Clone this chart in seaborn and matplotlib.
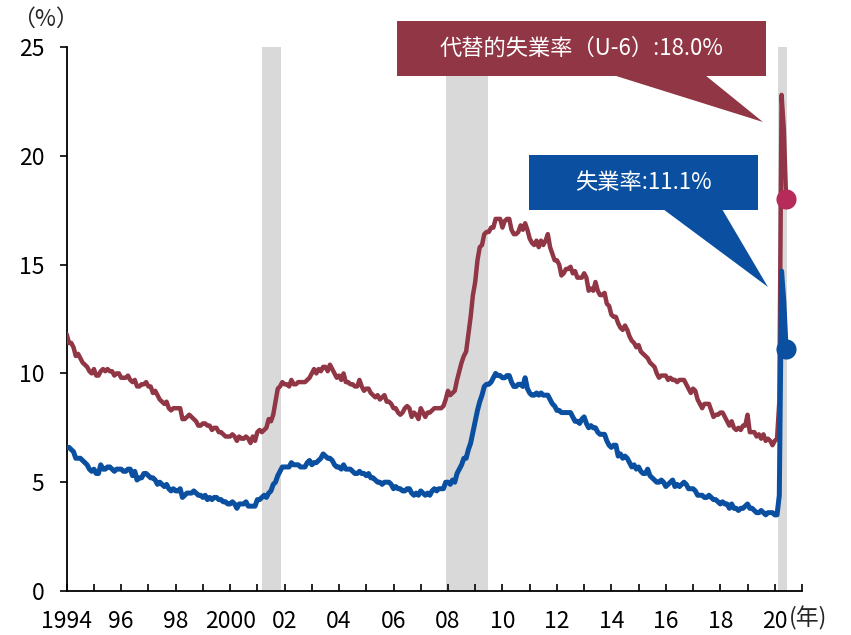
import numpy as np
import pandas as pd
import matplotlib
matplotlib.use("Agg")
import matplotlib.pyplot as plt
from matplotlib.patches import Polygon, Rectangle
import seaborn as sns

# ---------------- data (monthly, Jan 1994 - Jun 2020) ----------------
start_year = 1994
unemp = [
    6.6, 6.6, 6.5, 6.4, 6.1, 6.1, 6.1, 6.0, 5.9, 5.8, 5.6, 5.5,   # 1994
    5.6, 5.4, 5.4, 5.8, 5.6, 5.6, 5.7, 5.7, 5.6, 5.5, 5.6, 5.6,   # 1995
    5.6, 5.5, 5.5, 5.6, 5.6, 5.3, 5.5, 5.1, 5.2, 5.2, 5.4, 5.4,   # 1996
    5.3, 5.2, 5.2, 5.1, 4.9, 5.0, 4.9, 4.8, 4.9, 4.7, 4.6, 4.7,   # 1997
    4.6, 4.6, 4.7, 4.3, 4.4, 4.5, 4.5, 4.5, 4.6, 4.5, 4.4, 4.4,   # 1998
    4.3, 4.4, 4.2, 4.3, 4.2, 4.3, 4.3, 4.2, 4.2, 4.1, 4.1, 4.0,   # 1999
    4.0, 4.1, 4.0, 3.8, 4.0, 4.0, 4.0, 4.1, 3.9, 3.9, 3.9, 3.9,   # 2000
    4.2, 4.2, 4.3, 4.4, 4.3, 4.5, 4.6, 4.9, 5.0, 5.3, 5.5, 5.7,   # 2001
    5.7, 5.7, 5.7, 5.9, 5.8, 5.8, 5.8, 5.7, 5.7, 5.7, 5.9, 6.0,   # 2002
    5.8, 5.9, 5.9, 6.0, 6.1, 6.3, 6.2, 6.1, 6.1, 6.0, 5.8, 5.7,   # 2003
    5.7, 5.6, 5.8, 5.6, 5.6, 5.6, 5.5, 5.4, 5.4, 5.5, 5.4, 5.4,   # 2004
    5.3, 5.4, 5.2, 5.2, 5.1, 5.0, 5.0, 4.9, 5.0, 5.0, 5.0, 4.9,   # 2005
    4.7, 4.8, 4.7, 4.7, 4.6, 4.6, 4.7, 4.7, 4.5, 4.4, 4.5, 4.4,   # 2006
    4.6, 4.5, 4.4, 4.5, 4.4, 4.6, 4.7, 4.6, 4.7, 4.7, 4.7, 5.0,   # 2007
    5.0, 4.9, 5.1, 5.0, 5.4, 5.6, 5.8, 6.1, 6.1, 6.5, 6.8, 7.3,   # 2008
    7.8, 8.3, 8.7, 9.0, 9.4, 9.5, 9.5, 9.6, 9.8, 10.0, 9.9, 9.9,  # 2009
    9.8, 9.8, 9.9, 9.9, 9.6, 9.4, 9.4, 9.5, 9.5, 9.4, 9.8, 9.3,   # 2010
    9.1, 9.0, 9.0, 9.1, 9.0, 9.1, 9.0, 9.0, 9.0, 8.8, 8.6, 8.5,   # 2011
    8.3, 8.3, 8.2, 8.2, 8.2, 8.2, 8.2, 8.0, 7.8, 7.8, 7.7, 7.9,   # 2012
    8.0, 7.7, 7.5, 7.6, 7.5, 7.5, 7.3, 7.2, 7.2, 7.2, 6.9, 6.7,   # 2013
    6.6, 6.7, 6.7, 6.2, 6.3, 6.1, 6.2, 6.1, 5.9, 5.7, 5.8, 5.6,   # 2014
    5.7, 5.5, 5.4, 5.4, 5.6, 5.3, 5.2, 5.1, 5.0, 5.0, 5.1, 5.0,   # 2015
    4.8, 4.9, 5.0, 5.1, 4.8, 4.9, 4.8, 4.9, 5.0, 4.9, 4.7, 4.7,   # 2016
    4.7, 4.6, 4.4, 4.4, 4.4, 4.3, 4.3, 4.4, 4.3, 4.2, 4.2, 4.1,   # 2017
    4.0, 4.1, 4.0, 4.0, 3.8, 4.0, 3.8, 3.8, 3.7, 3.8, 3.8, 3.9,   # 2018
    4.0, 3.8, 3.8, 3.7, 3.6, 3.6, 3.7, 3.6, 3.5, 3.6, 3.6, 3.6,   # 2019
    3.5, 3.5, 4.4, 14.7, 13.3, 11.1,                              # 2020
]
u6 = [
    11.8, 11.4, 11.4, 11.2, 10.8, 10.9, 10.7, 10.5, 10.4, 10.3, 10.1, 10.0,  # 1994
    10.2, 9.9, 9.9, 10.1, 10.2, 10.1, 10.2, 10.1, 10.1, 9.9, 10.0, 10.0,     # 1995
    9.8, 9.8, 9.8, 9.9, 9.7, 9.6, 9.7, 9.4, 9.4, 9.5, 9.5, 9.6,             # 1996
    9.4, 9.4, 9.1, 9.2, 9.0, 8.8, 8.7, 8.6, 8.7, 8.4, 8.3, 8.4,             # 1997
    8.4, 8.4, 8.4, 7.9, 7.9, 8.0, 8.1, 8.0, 7.9, 7.8, 7.6, 7.6,             # 1998
    7.7, 7.7, 7.6, 7.6, 7.4, 7.5, 7.5, 7.3, 7.3, 7.2, 7.1, 7.1,             # 1999
    7.1, 7.2, 7.1, 6.9, 7.1, 7.0, 7.0, 7.1, 7.0, 6.8, 7.1, 6.9,             # 2000
    7.3, 7.4, 7.3, 7.4, 7.5, 7.9, 7.8, 8.1, 8.7, 9.3, 9.4, 9.6,             # 2001
    9.5, 9.5, 9.4, 9.7, 9.5, 9.5, 9.6, 9.6, 9.6, 9.6, 9.7, 9.8,             # 2002
    10.0, 10.2, 10.0, 10.2, 10.1, 10.3, 10.3, 10.1, 10.4, 10.2, 10.0, 9.8,  # 2003
    9.9, 9.7, 10.0, 9.6, 9.6, 9.5, 9.5, 9.4, 9.4, 9.7, 9.4, 9.2,            # 2004
    9.3, 9.3, 9.1, 9.0, 8.9, 9.0, 8.8, 8.9, 9.0, 8.7, 8.7, 8.6,             # 2005
    8.4, 8.4, 8.2, 8.1, 8.2, 8.4, 8.5, 8.4, 8.0, 8.2, 8.1, 7.9,             # 2006
    8.4, 8.2, 8.0, 8.2, 8.2, 8.3, 8.4, 8.4, 8.4, 8.4, 8.5, 8.8,             # 2007
    9.2, 9.0, 9.1, 9.2, 9.7, 10.1, 10.5, 10.8, 11.0, 11.8, 12.6, 13.6,      # 2008
    14.2, 15.2, 15.8, 15.9, 16.4, 16.5, 16.5, 16.7, 16.7, 17.1, 17.1, 17.1, # 2009
    16.7, 17.0, 17.1, 17.1, 16.6, 16.4, 16.4, 16.5, 16.8, 16.6, 16.9, 16.6, # 2010
    16.2, 16.0, 15.9, 16.1, 15.8, 16.1, 15.9, 16.1, 16.4, 15.8, 15.5, 15.2, # 2011
    15.2, 15.0, 14.5, 14.6, 14.8, 14.8, 14.9, 14.6, 14.7, 14.4, 14.4, 14.4, # 2012
    14.6, 14.4, 13.8, 13.9, 13.8, 14.2, 13.8, 13.6, 13.6, 13.7, 13.2, 13.1, # 2013
    12.7, 12.6, 12.6, 12.3, 12.1, 12.0, 12.2, 12.0, 11.7, 11.5, 11.4, 11.2, # 2014
    11.3, 11.0, 10.9, 10.8, 10.7, 10.5, 10.4, 10.3, 10.0, 9.8, 9.9, 9.9,    # 2015
    9.9, 9.7, 9.8, 9.7, 9.7, 9.6, 9.7, 9.7, 9.7, 9.5, 9.3, 9.1,             # 2016
    9.3, 9.2, 8.8, 8.6, 8.4, 8.6, 8.6, 8.6, 8.3, 8.0, 8.1, 8.1,             # 2017
    8.2, 8.2, 8.0, 7.8, 7.6, 7.8, 7.5, 7.4, 7.5, 7.4, 7.6, 7.6,             # 2018
    8.1, 7.3, 7.3, 7.3, 7.1, 7.2, 7.0, 7.2, 6.9, 7.0, 6.9, 6.7,             # 2019
    6.9, 7.0, 8.7, 22.8, 21.2, 18.0,                                        # 2020
]
recessions = [(2001.17, 2001.88), (2007.92, 2009.46), (2020.12, 2020.46)]
tick_years = list(range(1994, 2022))
tick_labels = ["1994", "", "96", "", "98", "", "2000", "", "02", "", "04", "",
               "06", "", "08", "", "10", "", "12", "", "14", "", "16", "",
               "18", "", "20", ""]
label_u6 = "代替的失業率（U-6）:18.0%"
label_u3 = "失業率:11.1%"

n = len(unemp)
df = pd.DataFrame({
    "t": start_year + np.arange(n) / 12.0,
    "unemp": unemp,
    "u6": u6,
})

# ---------------- style ----------------
sns.set_theme(style="white")
plt.rcParams["font.family"] = ["Noto Sans CJK JP", "DejaVu Sans"]

RED = "#903645"
BLUE = "#0B50A0"
DOT_RED = "#B72B5B"
GREY = "#D9D9D9"

fig = plt.figure(figsize=(8.51, 6.35), dpi=100)
ax = fig.add_axes([66.7 / 851, 1 - 591 / 635, (802 - 66.7) / 851, (591 - 47) / 635])

for a, b in recessions:
    ax.axvspan(a, b, color=GREY, lw=0, zorder=0)

sns.lineplot(data=df, x="t", y="u6", color=RED, lw=3.2, ax=ax, zorder=3,
             solid_joinstyle="round", solid_capstyle="round")
sns.lineplot(data=df, x="t", y="unemp", color=BLUE, lw=3.6, ax=ax, zorder=4,
             solid_joinstyle="round", solid_capstyle="round")
last = df.iloc[[-1]]
sns.scatterplot(data=last, x="t", y="u6", color=DOT_RED, s=210, ax=ax,
                zorder=6, linewidth=0)
sns.scatterplot(data=last, x="t", y="unemp", color=BLUE, s=210, ax=ax,
                zorder=6, linewidth=0)

ax.set_xlim(1994, 2021)
ax.set_ylim(0, 25)
ax.set_xlabel("")
ax.set_ylabel("")
ax.set_yticks([0, 5, 10, 15, 20, 25])
ax.set_xticks(tick_years)
ax.set_xticklabels(tick_labels)
for s in ["top", "right"]:
    ax.spines[s].set_visible(False)
for s in ["left", "bottom"]:
    ax.spines[s].set_color("black")
    ax.spines[s].set_linewidth(1.3)
ax.tick_params(axis="x", direction="in", length=5, width=1.2, colors="black",
               labelsize=16.5, pad=13.5, bottom=True)
ax.tick_params(axis="y", direction="out", length=5, width=1.2, colors="black",
               labelsize=16.5, pad=11, left=True)
ax.grid(False)

fig.text(789 / 851, 1 - 618 / 635, "(年)", fontsize=16.5, ha="left", va="center")
fig.text(45 / 851, 1 - 19 / 635, "（%）", fontsize=16.5, ha="center", va="center")

# ---------------- callouts (data coordinates) ----------------
def px2d(px, py):
    return (1994 + (px - 66.7) / 27.235, (591 - py) / 21.76)

def callout(box, base, tip, color, text):
    (x0, y0), (x1, y1) = px2d(*box[0]), px2d(*box[1])
    rect = Rectangle((x0, y1), x1 - x0, y0 - y1, facecolor=color,
                     edgecolor="none", clip_on=False, zorder=7)
    ax.add_patch(rect)
    b0, b1, tp = px2d(*base[0]), px2d(*base[1]), px2d(*tip)
    tri = Polygon([b0, b1, tp], closed=True, facecolor=color,
                  edgecolor="none", clip_on=False, zorder=7)
    ax.add_patch(tri)
    ax.text((x0 + x1) / 2, (y0 + y1) / 2, text, color="white", fontsize=16,
            ha="center", va="center", zorder=8, clip_on=False)

callout(((397, 21), (766, 76)), ((613, 75), (705, 75)), (763, 122), RED, label_u6)
callout(((529, 155), (758, 210)), ((663, 209), (722, 209)), (768, 287), BLUE, label_u3)

fig.savefig("out.png", dpi=100)
